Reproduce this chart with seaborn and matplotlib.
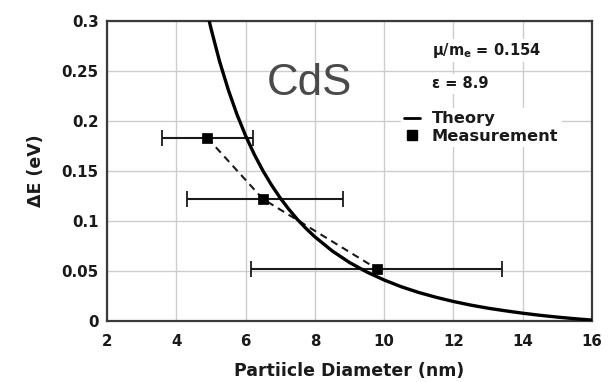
import numpy as np
import pandas as pd
import matplotlib
matplotlib.use("Agg")
import matplotlib.pyplot as plt
from matplotlib.lines import Line2D
import seaborn as sns

# Theory curve: band-gap shift vs. particle diameter
theory_d = [4.8, 5.0, 5.25, 5.5, 5.75, 6.0, 6.25, 6.5, 6.75, 7.0, 7.25, 7.5,
            7.75, 8.0, 8.5, 9.0, 9.5, 10.0, 10.5, 11.0, 11.5, 12.0, 12.5,
            13.0, 13.5, 14.0, 14.5, 15.0, 15.5, 16.0]
theory_de = [0.3231, 0.2927, 0.2596, 0.2313, 0.2067, 0.1854, 0.1667, 0.1503,
             0.1359, 0.1230, 0.1117, 0.1014, 0.0924, 0.0842, 0.0701, 0.0585,
             0.0490, 0.0410, 0.0342, 0.0285, 0.0237, 0.0195, 0.0159, 0.0128,
             0.0102, 0.0078, 0.0057, 0.0039, 0.0023, 0.0009]

# Measured points with diameter ranges
meas_d = [4.9, 6.5, 9.8]
meas_de = [0.183, 0.122, 0.052]
meas_d_low = [3.6, 4.3, 6.15]
meas_d_high = [6.2, 8.8, 13.4]

x_ticks = [2, 4, 6, 8, 10, 12, 14, 16]
y_ticks = [0, 0.05, 0.1, 0.15, 0.2, 0.25, 0.3]
y_tick_labels = ["0", "0.05", "0.1", "0.15", "0.2", "0.25", "0.3"]

theory = pd.DataFrame({"d": theory_d, "de": theory_de})
meas = pd.DataFrame({"d": meas_d, "de": meas_de})

sns.set_theme(style="whitegrid")
plt.rcParams["font.family"] = ["DejaVu Sans"]
plt.rcParams["mathtext.default"] = "regular"

fig = plt.figure(figsize=(6.13, 3.82), dpi=100)
ax = fig.add_axes([107 / 613, 1 - 321 / 382, 485 / 613, 300 / 382])
ax.set_facecolor("white")

# grid and frame
ax.grid(True, color="#cdcdcd", linewidth=1.0)
for s in ax.spines.values():
    s.set_color("#3a3a3a")
    s.set_linewidth(1.6)
    s.set_visible(True)

# horizontal error bars
xerr = [np.array(meas_d) - np.array(meas_d_low),
        np.array(meas_d_high) - np.array(meas_d)]
ax.errorbar(meas_d, meas_de, xerr=xerr, fmt="none", ecolor="#1a1a1a",
            elinewidth=1.5, capsize=6, capthick=1.3, zorder=3)

# dashed connection through the measurements
sns.lineplot(data=meas, x="d", y="de", ax=ax, color="#1a1a1a",
             linewidth=1.5, linestyle=(0, (3.5, 2.5)), zorder=4, sort=False)

# theory curve
sns.lineplot(data=theory, x="d", y="de", ax=ax, color="black",
             linewidth=2.4, zorder=5, sort=False)

# measurement markers
sns.scatterplot(data=meas, x="d", y="de", ax=ax, marker="s", s=55,
                color="black", edgecolor="black", linewidth=0.5, zorder=6)

ax.set_xlim(2, 16)
ax.set_ylim(0, 0.3)
ax.set_xticks(x_ticks)
ax.set_yticks(y_ticks)
ax.set_yticklabels(y_tick_labels)
ax.tick_params(axis="both", length=0, labelsize=10.8, colors="#1a1a1a")
ax.tick_params(axis="x", pad=9)
ax.tick_params(axis="y", pad=6)
for lab in ax.get_xticklabels() + ax.get_yticklabels():
    lab.set_fontweight("bold")

ax.set_xlabel("Partiicle Diameter (nm)", fontsize=12.5, fontweight="bold",
              color="#1a1a1a")
ax.set_ylabel("ΔE (eV)", fontsize=12.5, fontweight="bold", color="#1a1a1a")
ax.xaxis.set_label_coords(0.5, -0.135)
ax.yaxis.set_label_coords(-0.128, 0.5)

# material label
ax.text(0.4175, 0.753, "CdS", transform=ax.transAxes, ha="center",
        va="baseline", fontsize=31.5, color="#4a4a4a",
        family="Liberation Sans")

# parameter annotations
ax.text(0.670, 0.887, "μ/m$_e$ = 0.154", transform=ax.transAxes,
        ha="left", va="baseline", fontsize=10.5, fontweight="bold",
        color="#1a1a1a", zorder=7,
        bbox=dict(facecolor="white", edgecolor="none", pad=1.5))
ax.text(0.670, 0.775, "ε = 8.9", transform=ax.transAxes,
        ha="left", va="baseline", fontsize=10.5, fontweight="bold",
        color="#1a1a1a", zorder=7,
        bbox=dict(facecolor="white", edgecolor="none", pad=1.5))

handles = [Line2D([], [], color="black", linewidth=2.0),
           Line2D([], [], color="black", marker="s", linestyle="none",
                  markersize=6.5)]
leg = ax.legend(handles, ["Theory", "Measurement"], loc="upper left",
                bbox_to_anchor=(0.606, 0.71), frameon=True,
                facecolor="white", edgecolor="none", framealpha=1.0,
                handlelength=1.0, handletextpad=0.7,
                labelspacing=0.15, borderpad=0.2, borderaxespad=0.0,
                prop={"weight": "bold", "size": 11.7})
for t in leg.get_texts():
    t.set_color("#1a1a1a")
leg.set_zorder(8)

fig.savefig("out.png", dpi=100, facecolor="white")
